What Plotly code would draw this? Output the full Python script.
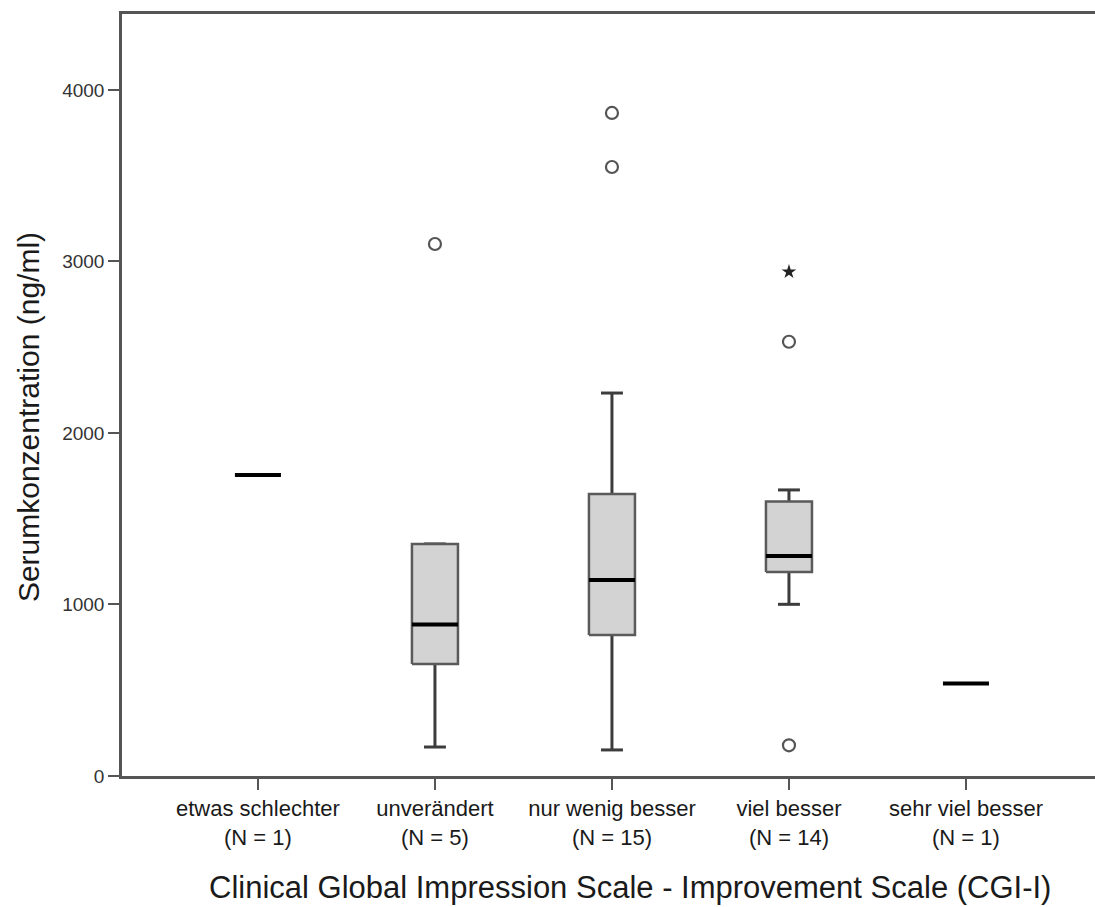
import plotly.graph_objects as go

# Serum concentration by CGI-I improvement category
categories = ["etwas schlechter", "unverändert", "nur wenig besser", "viel besser", "sehr viel besser"]
n_counts = [1, 5, 15, 14, 1]

q1 = [None, 653, 822, 1190, None]
median = [1755, 883, 1143, 1283, 540]
q3 = [None, 1353, 1644, 1600, None]
whisker_low = [None, 169, 152, 1001, None]
whisker_high = [None, 1353, 2233, 1668, None]

# outliers (circles) and extreme values (stars), by category index
outlier_cat = [1, 2, 2, 3, 3]
outlier_val = [3102, 3866, 3551, 2532, 179]
extreme_cat = [3]
extreme_val = [2940]

BOX_HALF = 0.13
CAP_HALF = 0.062
BOX_FILL = "#d3d3d3"
BOX_LINE = "#5a5a5a"
WHISKER = "#3c3c3c"
FONT = "Liberation Sans, Arial, sans-serif"

fig = go.Figure()

# whiskers and caps
wx, wy, cx, cy = [], [], [], []
for i in range(len(categories)):
    if q1[i] is None:
        continue
    wx += [i, i, None, i, i, None]
    wy += [whisker_low[i], q1[i], None, q3[i], whisker_high[i], None]
    for w in (whisker_low[i], whisker_high[i]):
        cx += [i - CAP_HALF, i + CAP_HALF, None]
        cy += [w, w, None]
fig.add_trace(go.Scatter(x=wx, y=wy, mode="lines", line=dict(color=WHISKER, width=3),
                         hoverinfo="skip", showlegend=False))
fig.add_trace(go.Scatter(x=cx, y=cy, mode="lines", line=dict(color=WHISKER, width=3),
                         hoverinfo="skip", showlegend=False))

# boxes
for i in range(len(categories)):
    if q1[i] is None:
        continue
    fig.add_trace(go.Scatter(
        x=[i - BOX_HALF, i + BOX_HALF, i + BOX_HALF, i - BOX_HALF, i - BOX_HALF],
        y=[q1[i], q1[i], q3[i], q3[i], q1[i]],
        mode="lines", fill="toself", fillcolor=BOX_FILL,
        line=dict(color=BOX_LINE, width=2.5), hoverinfo="skip", showlegend=False))

# medians
mx, my = [], []
for i, m in enumerate(median):
    mx += [i - BOX_HALF, i + BOX_HALF, None]
    my += [m, m, None]
fig.add_trace(go.Scatter(x=mx, y=my, mode="lines", line=dict(color="#000000", width=4),
                         hoverinfo="skip", showlegend=False))

# outliers
fig.add_trace(go.Scatter(x=outlier_cat, y=outlier_val, mode="markers",
                         marker=dict(symbol="circle-open", size=12, color="#555555",
                                     line=dict(width=2.2, color="#555555")),
                         showlegend=False))
fig.add_trace(go.Scatter(x=extreme_cat, y=extreme_val, mode="markers",
                         marker=dict(symbol="star", size=11, color="#222222"),
                         showlegend=False))

tick_text = [f"{c}<br>(N = {n})" for c, n in zip(categories, n_counts)]

fig.update_layout(
    width=1095, height=907,
    margin=dict(l=122, r=0, t=14, b=131),
    paper_bgcolor="white", plot_bgcolor="white",
    font=dict(family=FONT, color="#1a1a1a"),
    xaxis=dict(
        range=[-0.768, 4.729], tickmode="array", tickvals=list(range(len(categories))),
        ticktext=tick_text, tickfont=dict(size=22, color="#1a1a1a"),
        showline=True, linecolor="#555555", linewidth=2.5, mirror=True,
        ticks="outside", ticklen=11, tickwidth=2, tickcolor="#555555",
        showgrid=False, zeroline=False,
    ),
    yaxis=dict(
        range=[0, 4443], tickmode="array", tickvals=[0, 1000, 2000, 3000, 4000],
        tickfont=dict(size=19, color="#333333"),
        showline=True, linecolor="#555555", linewidth=2.5,
        ticks="outside", ticklen=11, tickwidth=2, tickcolor="#555555",
        showgrid=False, zeroline=False,
    ),
    annotations=[
        dict(text="Serumkonzentration (ng/ml)", xref="paper", yref="paper",
             x=-0.0966, y=0.471, textangle=-90, showarrow=False,
             font=dict(size=30, color="#1a1a1a"), xanchor="center", yanchor="middle"),
        dict(text="Clinical Global Impression Scale - Improvement Scale (CGI-I)",
             xref="paper", yref="paper", x=0.522, y=-0.1457, showarrow=False,
             font=dict(size=31, color="#1a1a1a"), xanchor="center", yanchor="middle"),
    ],
)

fig.write_html("out.html")
